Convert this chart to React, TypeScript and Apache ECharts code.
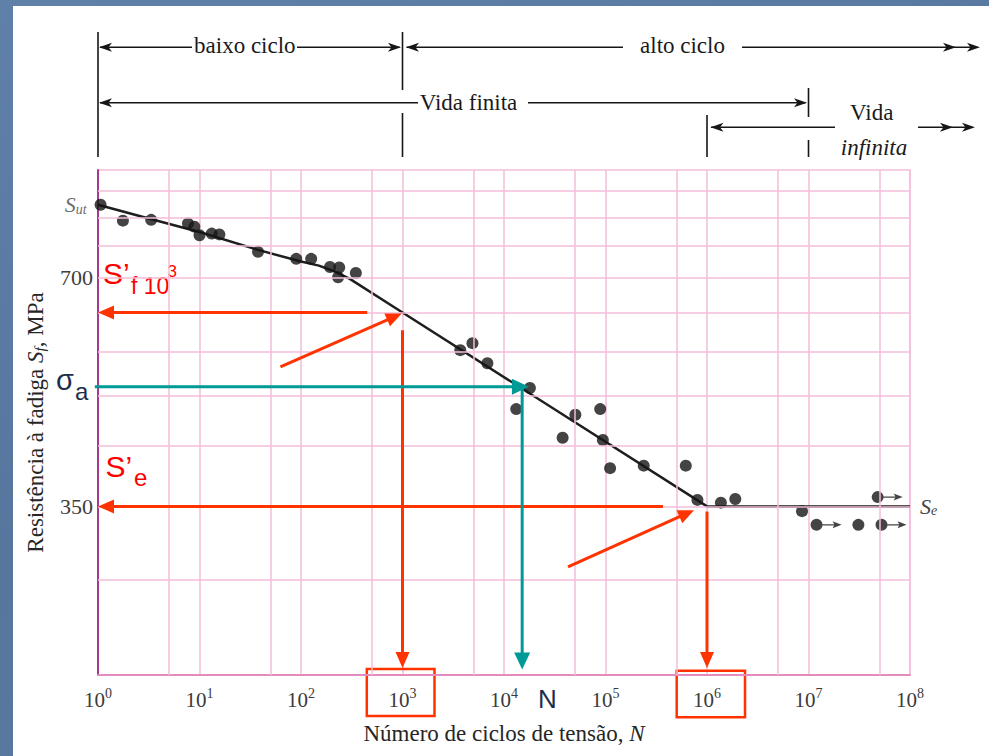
import React, { useEffect, useRef } from "react";
import * as echarts from "echarts";

const SERIF = '"Liberation Serif", "Times New Roman", serif';
const SANS = '"Liberation Sans", Arial, sans-serif';
const GRADE = "#f3bedb";
const VERMELHO = "#ff3300";
const TEXTO_VERMELHO = "#ff0000";
const TURQUESA = "#009a96";
const AZUL_ESCURO = "#1b2f4d";

// Ensaios que romperam: número de ciclos N e resistência à fadiga Sf (MPa)
const ciclosRuptura = [
  1.06, 1.76, 3.34, 7.7, 8.9, 10, 13.2, 15.7, 37.7, 89.8, 126, 193, 238, 232, 347,
  3710, 4890, 6860, 18000, 13200, 50500, 88700, 37800, 94200, 111000, 238000, 618000,
  805000, 1370000, 1900000, 8630000, 31000000,
];
const tensaoRuptura = [
  873, 832, 834, 825, 817, 796, 800, 798, 757, 741, 741, 723, 722, 701, 710,
  562, 574, 540, 501, 470, 462, 470, 431, 428, 393, 396, 396,
  357, 354, 358, 345, 331,
];

// Ensaios interrompidos sem ruptura (marcados com seta)
const ciclosSemFalha = [12000000, 52400000, 48000000];
const tensaoSemFalha = [331, 331, 360];

// Curva S-N: trecho de baixo ciclo e trecho de alto ciclo
const ciclosBaixoCiclo = [1, 3.3, 10, 37, 100, 150, 200, 300, 1000];
const tensaoBaixoCiclo = [873, 836, 804, 762, 735, 726, 716, 698, 630];
const ciclosAltoCiclo = [1e3, 1e6, 1e8];
const tensaoAltoCiclo = [630, 350, 350];

// Grade do papel log-log
const linhasMenoresN = [5, 50, 500, 5e3, 5e4, 5e5, 5e6, 5e7];
const linhasTensao = [280, 350, 420, 490, 560, 630, 700, 770, 840, 910];
const tensoesRotuladas = [350, 700];

// Pontos notáveis
const S_UT = 873;
const SF_1E3 = 630;
const SE = 350;
const SIGMA_A = 503;
const N_SIGMA = 15100;

// Setas de leitura: [N origem, S origem, N ponta, S ponta, cor (0 vermelho, 1 turquesa)]
const setas = [
  [449, SF_1E3, 1, SF_1E3, 0],
  [62.7, 534, 985, 628, 0],
  [1000, 597, 1000, 214.5, 0],
  [368000, SE, 1, SE, 0],
  [42700, 291.5, 745000, 346, 0],
  [1e6, 344.6, 1e6, 214.5, 0],
  [0.93, SIGMA_A, 17600, SIGMA_A, 1],
  [N_SIGMA, SIGMA_A, N_SIGMA, 213.5, 1],
];

const SIMBOLO_SEM_FALHA =
  "path://M0,6A6,6 0 1,1 12,6A6,6 0 1,1 0,6Z M11,5.4L25,5.4L25,6.6L11,6.6Z M22,2.5L31,6L22,9.5L24,6Z";

function opcoes(): any {
  const pontos = ciclosRuptura.map((n, i) => {
    const item: any = { value: [n, tensaoRuptura[i]] };
    if (i === 0 && tensaoRuptura[i] === S_UT) {
      item.label = {
        show: true,
        position: "left",
        distance: 8,
        formatter: "{s|S}{u|ut}",
        rich: {
          s: { fontFamily: SERIF, fontStyle: "italic", fontSize: 22, lineHeight: 23, color: "#444", verticalAlign: "middle" },
          u: { fontFamily: SERIF, fontStyle: "italic", fontSize: 14, lineHeight: 14, color: "#444", verticalAlign: "bottom" },
        },
      };
    }
    return item;
  });

  const gradeMarkLine = [
    ...linhasMenoresN.map((n) => ({ xAxis: n })),
    ...linhasTensao.map((s) => {
      const item: any = { yAxis: s };
      if (tensoesRotuladas.includes(s)) {
        item.label = {
          show: true,
          position: "start",
          distance: 5,
          formatter: String(s),
          fontFamily: SERIF,
          fontSize: 22,
          color: "#3d3d3d",
        };
      }
      return item;
    }),
  ];

  return {
    animation: false,
    backgroundColor: "transparent",
    grid: {
      left: 98,
      right: 79,
      top: 170,
      bottom: 81,
      show: true,
      borderColor: GRADE,
      borderWidth: 1.5,
      backgroundColor: "transparent",
    },
    xAxis: {
      type: "log",
      logBase: 10,
      min: 1,
      max: 1e8,
      splitNumber: 8,
      axisLine: { show: true, lineStyle: { color: "#e58cbf", width: 2 } },
      axisTick: { show: false },
      axisLabel: {
        margin: 11,
        formatter: (v: number) => `{b|10}{e|${Math.round(Math.log10(v))}}`,
        rich: {
          b: { fontFamily: SERIF, fontSize: 21, lineHeight: 24, color: "#3a3a3a", verticalAlign: "bottom" },
          e: { fontFamily: SERIF, fontSize: 14, lineHeight: 14, color: "#3a3a3a", verticalAlign: "top" },
        },
      },
      splitLine: { show: true, lineStyle: { color: GRADE, width: 1.5 } },
      name: "{r|Número de ciclos de tensão, }{i|N}",
      nameLocation: "middle",
      nameGap: 46,
      nameTextStyle: {
        rich: {
          r: { fontFamily: SERIF, fontSize: 23, lineHeight: 24, color: "#262626" },
          i: { fontFamily: SERIF, fontSize: 23, lineHeight: 24, fontStyle: "italic", color: "#262626" },
        },
      },
    },
    yAxis: {
      type: "log",
      logBase: 10,
      min: 210,
      max: 970,
      axisLine: { show: true, lineStyle: { color: "#a8378f", width: 2 } },
      axisTick: { show: false },
      axisLabel: { show: false },
      splitLine: { show: false },
      name: "{r|Resistência à fadiga }{i|S}{s|f}{r|, MPa}",
      nameLocation: "middle",
      nameGap: 51,
      nameRotate: 90,
      nameTextStyle: {
        rich: {
          r: { fontFamily: SERIF, fontSize: 23, lineHeight: 24, color: "#262626", verticalAlign: "middle" },
          i: { fontFamily: SERIF, fontSize: 23, lineHeight: 24, fontStyle: "italic", color: "#262626", verticalAlign: "middle" },
          s: { fontFamily: SERIF, fontSize: 15, lineHeight: 14, fontStyle: "italic", color: "#262626", verticalAlign: "bottom" },
        },
      },
    },
    series: [
      {
        name: "grade",
        type: "line",
        data: [],
        z: 1,
        silent: true,
        markLine: {
          silent: true,
          symbol: ["none", "none"],
          lineStyle: { color: GRADE, width: 1.5, type: "solid" },
          label: { show: false },
          emphasis: { disabled: true },
          data: gradeMarkLine,
        },
      },
      {
        name: "baixo ciclo",
        type: "line",
        data: ciclosBaixoCiclo.map((n, i) => [n, tensaoBaixoCiclo[i]]),
        showSymbol: false,
        lineStyle: { color: "#1e1e1e", width: 2.5, join: "round" },
        z: 3,
        silent: true,
      },
      {
        name: "alto ciclo",
        type: "line",
        data: ciclosAltoCiclo.map((n, i) => [n, tensaoAltoCiclo[i]]),
        showSymbol: false,
        lineStyle: { color: "#1e1e1e", width: 2.5 },
        z: 3,
        silent: true,
        endLabel: {
          show: true,
          distance: 10,
          formatter: "{s|S}{e|e}",
          rich: {
            s: { fontFamily: SERIF, fontStyle: "italic", fontSize: 22, lineHeight: 23, color: "#444", verticalAlign: "middle" },
            e: { fontFamily: SERIF, fontStyle: "italic", fontSize: 14, lineHeight: 14, color: "#444", verticalAlign: "bottom" },
          },
        },
      },
      {
        name: "ruptura",
        type: "scatter",
        data: pontos,
        symbol: "circle",
        symbolSize: 12,
        itemStyle: { color: "#151515" },
        z: 4,
        silent: true,
      },
      {
        name: "sem falha",
        type: "scatter",
        data: ciclosSemFalha.map((n, i) => [n, tensaoSemFalha[i]]),
        symbol: SIMBOLO_SEM_FALHA,
        symbolSize: [31, 12],
        symbolOffset: [9.5, 0],
        itemStyle: { color: "#151515" },
        z: 4,
        silent: true,
      },
      {
        name: "setas",
        type: "custom",
        data: setas,
        encode: { x: [0, 2], y: [1, 3] },
        clip: false,
        z: 6,
        silent: true,
        renderItem: (_params: any, api: any) => {
          const p0 = api.coord([api.value(0), api.value(1)]);
          const p1 = api.coord([api.value(2), api.value(3)]);
          const turquesa = api.value(4) === 1;
          const cor = turquesa ? TURQUESA : VERMELHO;
          const L = turquesa ? 17 : 16;
          const W = turquesa ? 8 : 7;
          const dx = p1[0] - p0[0];
          const dy = p1[1] - p0[1];
          const len = Math.hypot(dx, dy) || 1;
          const ux = dx / len;
          const uy = dy / len;
          const bx = p1[0] - ux * L;
          const by = p1[1] - uy * L;
          return {
            type: "group",
            children: [
              {
                type: "line",
                shape: { x1: p0[0], y1: p0[1], x2: bx + ux * 2, y2: by + uy * 2 },
                style: { stroke: cor, lineWidth: 3 },
              },
              {
                type: "polygon",
                shape: { points: [[p1[0], p1[1]], [bx - uy * W, by + ux * W], [bx + uy * W, by - ux * W]] },
                style: { fill: cor },
              },
            ],
          };
        },
      },
    ],
  };
}

function anotacoes(px: (n: number) => number): any[] {
  const els: any[] = [];
  const preto = "#161616";
  const linha = (x1: number, y1: number, x2: number, y2: number) =>
    els.push({ type: "line", silent: true, shape: { x1, y1, x2, y2 }, style: { stroke: preto, lineWidth: 1.6 } });
  const ponta = (x: number, y: number, dir: number) =>
    els.push({
      type: "polygon",
      silent: true,
      shape: { points: [[x, y], [x - dir * 13, y - 4.5], [x - dir * 9.5, y], [x - dir * 13, y + 4.5]] },
      style: { fill: preto },
    });
  const rotulo = (t: string, x: number, y: number, italico = false) =>
    els.push({
      type: "text",
      silent: true,
      x,
      y,
      style: {
        text: t,
        fontFamily: SERIF,
        fontSize: 23,
        fontStyle: italico ? "italic" : "normal",
        fill: "#1a1a1a",
        textAlign: "center",
        textVerticalAlign: "middle",
      },
    });
  const marcador = (t: string, x: number, y: number, size: number, cor: string) =>
    els.push({
      type: "text",
      silent: true,
      x,
      y,
      style: { text: t, fontFamily: SANS, fontSize: size, fill: cor, textAlign: "left", textVerticalAlign: "middle" },
    });

  const x0 = px(1);
  const x3 = px(1e3);
  const x6 = px(1e6);
  const x7 = px(1e7);

  // Divisões verticais das faixas de vida
  linha(x0, 32, x0, 157);
  linha(x3, 32, x3, 90);
  linha(x3, 113, x3, 157);
  linha(x7, 88, x7, 117);
  linha(x7, 140, x7, 157);
  linha(x6, 115, x6, 157);

  // baixo ciclo / alto ciclo
  const y1 = 47.3;
  ponta(x0 + 1, y1, -1);
  linha(x0 + 2, y1, 192, y1);
  rotulo("baixo ciclo", 244.8, 45.2);
  linha(297, y1, x3 - 3, y1);
  ponta(x3 - 1.5, y1, 1);
  ponta(x3 + 3.5, y1, -1);
  linha(x3 + 4, y1, 623, y1);
  rotulo("alto ciclo", 682.5, 45.2);
  linha(742, y1, 976, y1);
  ponta(956, y1, 1);
  ponta(980, y1, 1);

  // Vida finita
  const y2 = 102.7;
  ponta(x0 + 1, y2, -1);
  linha(x0 + 2, y2, 418, y2);
  rotulo("Vida finita", 468.5, 102.9);
  linha(528, y2, x7 - 3, y2);
  ponta(x7 - 1.5, y2, 1);

  // Vida infinita
  const y3 = 127.3;
  ponta(x6 + 3.5, y3, -1);
  linha(x6 + 4, y3, 835, y3);
  rotulo("Vida", 871.7, 112.2);
  rotulo("infinita", 874, 147.2, true);
  linha(918, y3, 971, y3);
  ponta(953, y3, 1);
  ponta(975, y3, 1);

  // Destaques dos rótulos 10³ e 10⁶
  els.push({
    type: "rect",
    silent: true,
    shape: { x: x3 - 35.7, y: 669, width: 67.7, height: 47 },
    style: { fill: "none", stroke: VERMELHO, lineWidth: 2.5 },
  });
  els.push({
    type: "rect",
    silent: true,
    shape: { x: x6 - 30.3, y: 670.7, width: 68.3, height: 46.6 },
    style: { fill: "none", stroke: VERMELHO, lineWidth: 2.5 },
  });

  // S'f a 10³ ciclos
  marcador("S’", 103, 273, 30, TEXTO_VERMELHO);
  marcador("f 10", 131, 285.5, 23, TEXTO_VERMELHO);
  marcador("3", 167.5, 271.7, 17, TEXTO_VERMELHO);
  // S'e
  marcador("S’", 105.5, 466.5, 30, TEXTO_VERMELHO);
  marcador("e", 134, 477, 24, TEXTO_VERMELHO);
  // σa e N
  marcador("σ", 56, 380.3, 29, AZUL_ESCURO);
  marcador("a", 75, 391.2, 24, AZUL_ESCURO);
  marcador("N", 538, 698.5, 26, AZUL_ESCURO);

  return els;
}

export default function App() {
  const ref = useRef<HTMLDivElement>(null);

  useEffect(() => {
    const el = ref.current;
    if (!el) return;
    const chart = echarts.init(el, null, { renderer: "svg" });
    chart.setOption(opcoes());
    const px = (n: number) => chart.convertToPixel({ xAxisIndex: 0 }, n) as number;
    chart.setOption({ graphic: { elements: anotacoes(px) } });
    return () => chart.dispose();
  }, []);

  return (
    <div
      style={{
        position: "absolute",
        left: 0,
        top: 0,
        width: 989,
        height: 756,
        overflow: "hidden",
        background: "linear-gradient(160deg, #5f80a8 0%, #56769e 50%, #5b7ba3 100%)",
      }}
    >
      <div style={{ position: "absolute", left: 13, top: 6, right: 0, bottom: 0, background: "#ffffff" }} />
      <div ref={ref} style={{ position: "absolute", left: 0, top: 0, width: 989, height: 756 }} />
    </div>
  );
}
